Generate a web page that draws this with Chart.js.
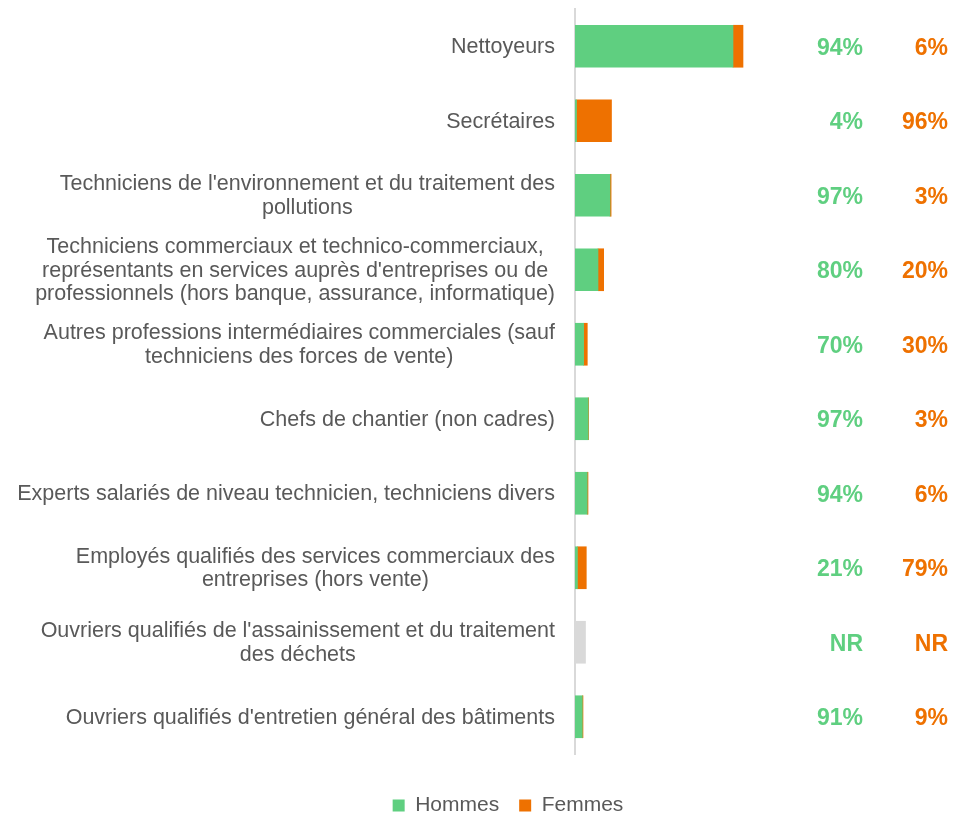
<!DOCTYPE html>
<html>
<head>
<meta charset="utf-8">
<script src="https://cdn.jsdelivr.net/npm/chart.js@4.4.1/dist/chart.umd.min.js"></script>
<style>
html,body{margin:0;padding:0;background:#fff;}
#wrap{width:953px;height:813px;position:relative;}
</style>
</head>
<body>
<div id="wrap"><canvas id="c" width="953" height="813"></canvas></div>
<script>
const categories = [
  ["Nettoyeurs"],
  ["Secrétaires"],
  ["Techniciens de l'environnement et du traitement des", "pollutions"],
  ["Techniciens commerciaux et technico-commerciaux,", "représentants en services auprès d'entreprises ou de", "professionnels (hors banque, assurance, informatique)"],
  ["Autres professions intermédiaires commerciales (sauf", "techniciens des forces de vente)"],
  ["Chefs de chantier (non cadres)"],
  ["Experts salariés de niveau technicien, techniciens divers"],
  ["Employés qualifiés des services commerciaux des", "entreprises (hors vente)"],
  ["Ouvriers qualifiés de l'assainissement et du traitement", "des déchets"],
  ["Ouvriers qualifiés d'entretien général des bâtiments"]
];
// bar lengths (relative headcounts, estimated)
const hommes = [158, 1.5, 35, 23, 8.6, 13.2, 12.2, 2.4, null, 7.3];
const femmes = [10, 35, 1.1, 5.7, 3.7, 0.4, 0.8, 8.9, null, 0.7];
const nonRenseigne = [null, null, null, null, null, null, null, null, 10.5, null];
const pctHommes = ["94%", "4%", "97%", "80%", "70%", "97%", "94%", "21%", "NR", "91%"];
const pctFemmes = ["6%", "96%", "3%", "20%", "30%", "3%", "6%", "79%", "NR", "9%"];

const GREEN = "#5fcf80";
const ORANGE = "#ee7100";
const GREY = "#d9d9d9";
const TEXT = "#595959";
const FONT = "'Liberation Sans', Arial, sans-serif";

const labelsPlugin = {
  id: 'customLabels',
  afterLayout(chart) {
    // centre the legend under the figure as in the original
    const lg = chart.legend;
    if (lg) {
      const off = 508 - (lg.left + lg.right) / 2;
      lg.left += off;
      lg.right += off;
    }
  },
  afterDraw(chart) {
    const ctx = chart.ctx;
    const y = chart.scales.y;
    const area = chart.chartArea;
    ctx.save();
    // category labels: block right-aligned, lines centred
    ctx.font = "21.5px " + FONT;
    ctx.fillStyle = TEXT;
    ctx.textAlign = "center";
    ctx.textBaseline = "middle";
    const lh = 23.5;
    categories.forEach((lines, i) => {
      const cy = y.getPixelForTick(i) + 1;
      const maxW = Math.max(...lines.map(l => ctx.measureText(l).width));
      const cx = y.right - 20 - maxW / 2;
      const y0 = cy - (lines.length - 1) * lh / 2;
      lines.forEach((l, k) => ctx.fillText(l, cx, y0 + k * lh));
    });
    // percentage columns
    ctx.font = "bold 23px " + FONT;
    ctx.textAlign = "right";
    categories.forEach((_, i) => {
      const cy = y.getPixelForTick(i) + 2;
      ctx.fillStyle = GREEN;
      ctx.fillText(pctHommes[i], area.right + 38, cy);
      ctx.fillStyle = ORANGE;
      ctx.fillText(pctFemmes[i], area.right + 123, cy);
    });
    ctx.restore();
  }
};

new Chart(document.getElementById('c'), {
  type: 'bar',
  data: {
    labels: categories.map(c => c.join(' ')),
    datasets: [
      { label: 'Hommes', data: hommes, backgroundColor: GREEN, barThickness: 42 },
      { label: 'Femmes', data: femmes, backgroundColor: ORANGE, barThickness: 42 },
      { label: 'NR', data: nonRenseigne, backgroundColor: GREY, barThickness: 42 }
    ]
  },
  options: {
    indexAxis: 'y',
    responsive: false,
    animation: false,
    layout: { padding: { top: 9, bottom: -13, left: 0, right: 128 } },
    scales: {
      x: {
        stacked: true,
        min: 0,
        max: 250,
        grid: { display: false, drawTicks: false },
        border: { display: false },
        ticks: { display: false },
        afterFit(scale) { scale.height = 21; }
      },
      y: {
        stacked: true,
        grid: { display: false, drawTicks: false },
        border: { display: true, color: GREY, width: 2 },
        ticks: { display: false },
        afterFit(scale) { scale.width = 575; }
      }
    },
    plugins: {
      tooltip: { enabled: false },
      legend: {
        position: 'bottom',
        labels: {
          filter: (item) => item.text !== 'NR',
          color: TEXT,
          font: { family: FONT, size: 21 },
          boxWidth: 12,
          boxHeight: 12,
          padding: 20
        }
      }
    }
  },
  plugins: [labelsPlugin]
});
</script>
</body>
</html>
